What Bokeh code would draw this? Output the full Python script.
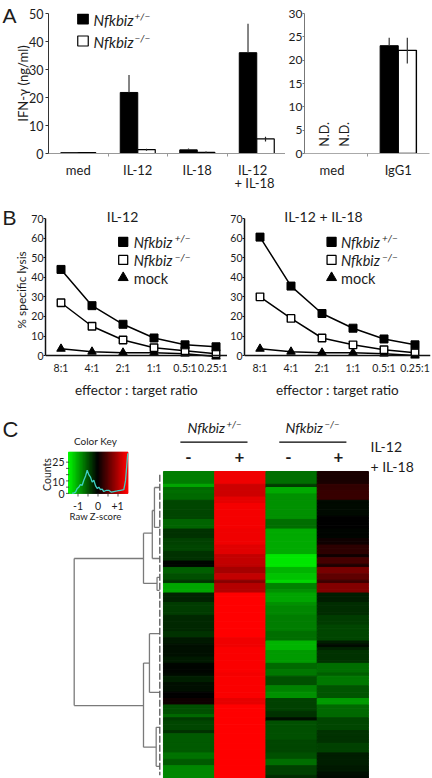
from bokeh.plotting import figure
from bokeh.layouts import column, row
from bokeh.models import Range1d, Label, FixedTicker, ColumnDataSource, LinearColorMapper, Span
from bokeh.transform import transform
from bokeh.embed import file_html
from bokeh.resources import INLINE
import numpy as np

FONT = "Lato"
INK = "#1c1c1c"

# ---- Panel A
stim_left = ["med", "IL-12", "IL-18", "IL-12"]
ifn_het = [0.3, 21.8, 1.3, 36.0]
ifn_ko = [0.3, 1.4, 0.4, 5.2]
ifn_het_top = [0.3, 28.0, 1.8, 46.3]
ifn_het_bot = [0.3, 21.8, 1.3, 36.0]
ifn_ko_top = [0.3, 1.7, 0.7, 6.0]
ifn_ko_bot = [0.3, 1.0, 0.2, 4.3]
stim_right = ["med", "IgG1"]
igg_het = [23.1]
igg_ko = [22.1]
igg_het_top = [24.8]
igg_ko_top = [24.8]
igg_ko_bot = [19.3]

# ---- Panel B
ratios = ["8:1", "4:1", "2:1", "1:1", "0.5:1", "0.25:1"]
b1_het = [44, 25.5, 16, 9, 5.5, 4.5]
b1_ko = [27, 15, 8, 4, 2.5, 1]
b1_mock = [3.5, 2, 1.5, 1.5, 1, -0.5]
b1_err = [0.8, 0.8, 0.8, 2.0, 0.6, 0.5]
b2_het = [60.5, 35.5, 21.5, 14, 8.5, 5.5]
b2_ko = [30, 19, 9, 5.5, 3, 1.5]
b2_mock = [3.5, 2, 1.5, 1.5, 1, 0]
b2_err = [1.0, 1.0, 1.8, 0.8, 0.6, 0.6]

# ---- Panel C: z-scores, one value per heat-map row
heat_c1 = [-.72,-.72,-.72,-.72,-.95,-.6,-.65,-.6,-.6,-.42,-.42,-.42,-.42,-.42,-.42,-.58,-.58,-.58,
           -.28,-.28,-.28,-.38,-.38,-.42,-.42,-.28,-.28,-.28,-.03,-.03,-.55,-.55,
           -.48,-.48,-.3,-.95,-.95,-.95,-.2,-.2,-.2,-.35,-.35,-.35,-.35,-.22,-.22,-.22,-.22,-.22,
           -.28,-.28,-.15,-.15,-.08,-.08,-.08,-.08,-.15,-.15,-.02,-.02,-.02,-.05,
           -.18,-.18,-.1,-.1,-.1,0,0,.1,.1,-.48,-.48,-.48,-.6,-.35,-.42,-.42,-.42,-.3,
           -.52,-.52,-.52,-.52,-.52,-.52,-.68,-.68,-.52,-.52,-.8,-.8,-.8,-.8]
heat_c2 = [1.4,1.4,1.4,1.4,1.2,1.2,1.2,1.2,1.35,1.35,1.42,1.42,1.42,1.42,1.42,1.42,1.42,1.42,
           1.4,1.4,1.4,1.4,1.4,1.3,1.3,1.3,1.15,1.15,1.15,1.1,.95,.95,
           1.15,1.15,.8,1.05,1.05,1.05,1.5,1.5,1.5,1.5,1.5,1.5,1.5,1.5,1.5,1.5,1.5,1.5,
           1.5,1.5,1.4,1.4,1.4,1.45,1.45,1.45,1.45,1.45,1.45,1.45,1.45,1.42,
           1.45,1.45,1.45,1.45,1.45,1.45,1.45,1.35,1.35,1.5,1.5,1.5,1.5,1.5,1.5,1.5,1.5,1.5,
           1.5,1.5,1.5,1.5,1.5,1.5,1.5,1.5,1.5,1.5,1.5,1.5,1.5,1.5]
heat_c3 = [-.65,-.65,-.65,-.65,-.35,-1.0,-1.0,-.85,-.85,-.85,-.85,-.85,-.85,-.85,-.85,-.65,-.65,-.65,
           -1.0,-1.0,-1.0,-1.0,-1.0,-1.0,-1.0,-1.0,-1.35,-1.35,-1.35,-1.35,-1.05,-1.05,
           -1.15,-1.15,-1.25,-.75,-.75,-.85,-.95,-.95,-.95,-.85,-.8,-.8,-.8,-.72,-.72,-.72,-.72,-.72,
           -.65,-.65,-.65,-1.05,-1.05,-1.05,-.9,-.9,-.9,-.9,-.6,-.6,-.7,-.7,
           -.48,-.48,-.48,-.75,-.75,-.85,-.85,-.38,-.38,-.38,-.38,-.28,-.28,-.1,-.48,-.48,-.48,-.48,
           -.48,-.48,-.42,-.42,-.42,-.42,-.48,-.48,-.65,-.65,-.38,-.38,-.38,-.25]
heat_c4 = [.15,.15,.15,.15,.3,.3,.33,.33,.33,-.05,-.05,-.05,-.05,-.05,0,0,0,0,
           -.02,-.02,-.02,.08,.08,.25,.25,.25,.1,.4,.4,.18,.7,.7,
           .55,.55,.35,.75,.75,.75,-.18,-.18,-.18,-.25,-.25,-.25,-.25,-.35,-.35,-.35,-.42,-.42,
           -.42,-.42,-.42,-.18,-.05,-.2,-.3,-.3,-.3,-.3,-.65,-.65,-.65,-.55,
           -.7,-.7,-.7,-.5,-.5,-.5,-.5,-.9,-.9,-.6,-.6,-.6,-.6,-.42,-.42,-.42,-.42,-.3,
           -.3,-.3,-.3,-.38,-.38,-.38,-.18,-.18,-.18,-.18,-.15,-.15,-.1,-.05]

hist_z = [-1.29,-1.2,-1.125,-1.04,-.96,-.88,-.79,-.71,-.62,-.54,-.46,-.375,-.29,-.21,-.12,-.04,.04,.125,.21,.29,.42,.54,.67,.79,.96,1.125,1.29,1.375,1.49]
hist_n = [0,0.5,1,4,5,7,6.5,10.5,14,18.5,15,13,9,10.5,6,4,5,3,3.5,1.5,2.5,2.5,1,1.5,2,2.5,3,10,32]

dend_h0 = [1,1,1,.197,.197,.197,.095,.095,.07,.07,.07,.095,.04,.04,.04,.197,.197,.197,.128,.128,.128,.05,.05,.05]
dend_r0 = [27.2,27.2,73.2,19.3,19.3,35,12.2,12.2,5,5,17.5,27.2,33.1,33.1,37.2,59.9,59.9,86.2,50.7,50.7,69.1,80,80,92.2]
dend_h1 = [1,.197,.197,.197,.095,.04,.095,.07,.07,.01,.01,.01,.04,.01,.01,.197,.128,.05,.128,.01,.01,.05,.01,.01]
dend_r1 = [73.2,27.2,73.2,35,19.3,35,27.2,12.2,17.5,5,17.5,27.2,37.2,33.1,37.2,86.2,59.9,86.2,69.1,50.7,69.1,92.2,80,92.2]
leaf_h = [.008, .008]
leaf_r = [1, 95]

ORIGIN = {}


def make(width, height, origin, xr, yr, frame, **kw):
    """origin = page pixel of the figure's top-left; frame = page pixels (left, right, bottom, top) of its plot area."""
    p = figure(width=width, height=height, x_range=xr, y_range=yr, output_backend="svg",
               toolbar_location=None, outline_line_color=None, background_fill_color="white",
               border_fill_color="white", **kw)
    p.grid.visible = False
    p.extra_x_ranges = {"px": Range1d(frame[0], frame[1])}
    p.extra_y_ranges = {"py": Range1d(frame[2], frame[3])}
    ORIGIN[p.id] = (origin[0], origin[1])
    return p


def lab(p, x, y, text, size=13, style="normal", align="left", base="middle", angle=0, font=FONT):
    ox, oy = ORIGIN[p.id]
    p.add_layout(Label(x=x - ox, y=y - oy, x_units="canvas", y_units="canvas", text=text,
                       text_font=font, text_font_size=f"{size}px", text_font_style=style,
                       text_align=align, text_baseline=base, angle=angle, angle_units="deg",
                       text_color=INK))


def style_axes(p, tick_size, axis_color="#333333"):
    for ax in (p.xaxis[0], p.yaxis[0]):
        ax.major_label_text_font = FONT
        ax.major_label_text_font_size = f"{tick_size}px"
        ax.major_label_text_color = INK
        ax.axis_line_color = axis_color
        ax.major_tick_line_color = axis_color
        ax.minor_tick_line_color = None
        ax.major_tick_in = 0


def nfk(p, x, y, sup, size=15, gap=41, sup_size=10):
    lab(p, x, y, "Nfkbiz", size, "italic")
    lab(p, x + gap, y - 4, sup, sup_size, "italic")


# transparent sheet over the whole page for texts that lie outside a plot area
ov = make(432, 778, (0, 0), Range1d(0, 432), Range1d(778, 0), (0, 432, 778, 0),
          min_border=0, x_axis_location=None, y_axis_location=None)
ov.background_fill_alpha = 0
ov.border_fill_alpha = 0
ov.styles = {"position": "absolute", "left": "0px", "top": "0px"}
lab(ov, 2, 15, "A", 21, font="Liberation Sans")
lab(ov, 2, 217, "B", 21, font="Liberation Sans")
lab(ov, 2, 429, "C", 22, font="Liberation Sans")
lab(ov, 122, 215.5, "IL-12", 14, align="center")
lab(ov, 323, 215.5, "IL-12 + IL-18", 14, align="center")
lab(ov, 254, 182, "+ IL-18", 13, align="center")

# ---------- A left
a1 = make(285, 200, (0, 0), Range1d(0, 3.983), Range1d(0, 50), (48, 285, 153, 13),
          min_border_left=48, min_border_right=0, min_border_top=13, min_border_bottom=47)
xa = np.arange(4) + 0.5
w = 0.294
a1.vbar(x=xa - w / 2, top=ifn_het, width=w, bottom=0, fill_color="black", line_color="black")
a1.vbar(x=xa + w / 2, top=ifn_ko, width=w, bottom=0, fill_color="white", line_color="black", line_width=1.2)
a1.segment(x0=xa - w / 2, y0=ifn_het_bot, x1=xa - w / 2, y1=ifn_het_top, line_color="#333333", line_width=1.2)
a1.segment(x0=xa + w / 2, y0=ifn_ko_bot, x1=xa + w / 2, y1=ifn_ko_top, line_color="#222222", line_width=1.2)
style_axes(a1, 12.5)
tick_a = [0.5, 1.5, 2.5, 3.43]
a1.xaxis[0].ticker = FixedTicker(ticks=tick_a, minor_ticks=[1, 2, 3])
a1.xaxis[0].major_label_overrides = {k: v for k, v in zip(tick_a, stim_left)}
a1.xaxis[0].major_tick_out = 0
a1.xaxis[0].major_label_standoff = 5
a1.xaxis[0].major_label_text_font_size = "13px"
a1.xaxis[0].minor_tick_line_color = "#999999"
a1.xaxis[0].minor_tick_out = 3
a1.xaxis[0].minor_tick_in = 0
a1.xaxis[0].axis_line_color = "#999999"
a1.yaxis[0].ticker = FixedTicker(ticks=[0, 10, 20, 30, 40, 50])
a1.yaxis[0].major_tick_out = 3
a1.yaxis[0].major_label_standoff = 2
a1.yaxis[0].axis_label = "IFN-γ (ng/ml)"
a1.yaxis[0].axis_label_text_font = FONT
a1.yaxis[0].axis_label_text_font_style = "normal"
a1.yaxis[0].axis_label_text_font_size = "13px"
a1.yaxis[0].axis_label_text_color = INK
a1.yaxis[0].axis_label_standoff = -5
a1.rect(x=[82.5, 82.5], y=[18.5, 40.5], width=10.5, height=10, x_range_name="px", y_range_name="py",
        fill_color=["black", "white"], line_color="black", line_width=1.2)
nfk(a1, 93, 19, "+/−")
nfk(a1, 93, 41, "−/−")

# ---------- A right
a2 = make(147, 200, (285, 0), Range1d(0, 2), Range1d(0, 30), (301, 429, 153, 7),
          min_border_left=16, min_border_right=3, min_border_top=7, min_border_bottom=47)
a2.vbar(x=[1.5 - 0.145], top=igg_het, width=0.29, fill_color="black", line_color="black")
a2.vbar(x=[1.5 + 0.145], top=igg_ko, width=0.29, fill_color="white", line_color="black", line_width=1.4)
a2.segment(x0=[1.355], y0=igg_het, x1=[1.355], y1=igg_het_top, line_color="#333333", line_width=1.2)
a2.segment(x0=[1.645], y0=igg_ko_bot, x1=[1.645], y1=igg_ko_top, line_color="#333333", line_width=1.2)
style_axes(a2, 12, "#777777")
a2.xaxis[0].ticker = FixedTicker(ticks=[0.44, 1.5], minor_ticks=[1])
a2.xaxis[0].major_label_overrides = {0.44: stim_right[0], 1.5: stim_right[1]}
a2.xaxis[0].major_tick_out = 0
a2.xaxis[0].major_label_standoff = 5
a2.xaxis[0].major_label_text_font_size = "13px"
a2.xaxis[0].minor_tick_line_color = "#999999"
a2.xaxis[0].minor_tick_out = 3
a2.xaxis[0].minor_tick_in = 0
a2.xaxis[0].axis_line_color = "#aaaaaa"
a2.yaxis[0].ticker = FixedTicker(ticks=[0, 5, 10, 15, 20, 25, 30])
a2.yaxis[0].major_tick_out = 2
a2.yaxis[0].major_label_standoff = 0
lab(a2, 324, 134, "N.D.", 12.5, align="center", angle=90)
lab(a2, 344, 134, "N.D.", 12.5, align="center", angle=90)


# ---------- B
def panel_b(width, origin, left, frame, xend, het, ko, mock, err, key_x, draw_ylabel):
    p = make(width, 200, origin, Range1d(0, xend), Range1d(-3, 70), frame,
             min_border_left=left, min_border_right=width - left - int(frame[1] - frame[0]),
             min_border_top=18, min_border_bottom=37)
    xs = np.arange(6) + 0.5
    hi = [a + b for a, b in zip(het, err)]
    lo = [a - b for a, b in zip(het, err)]
    p.add_layout(Span(location=0, dimension="width", line_color="#111111", line_width=1.5))
    p.segment(x0=xs, y0=lo, x1=xs, y1=hi, line_color="black", line_width=1.2)
    p.line(xs, het, line_color="black", line_width=1.5)
    p.line(xs, ko, line_color="black", line_width=1.5)
    p.line(xs, mock, line_color="black", line_width=1.5)
    p.scatter(xs, mock, marker="triangle", size=8.5, fill_color="black", line_color="black")
    p.scatter(xs, ko, marker="square", size=7.5, fill_color="white", line_color="black", line_width=1.4)
    p.scatter(xs, het, marker="square", size=8, fill_color="black", line_color="black")
    style_axes(p, 10.5, "#111111")
    ax = p.xaxis[0]
    ax.ticker = FixedTicker(ticks=list(xs))
    ax.major_label_overrides = {float(k): v for k, v in zip(xs, ratios)}
    ax.major_label_text_font_size = "10.5px"
    ax.axis_line_color = None
    ax.major_tick_line_color = None
    ax.major_tick_out = 0
    ax.major_label_standoff = 0
    ax.axis_label = "effector : target ratio"
    ax.axis_label_text_font = FONT
    ax.axis_label_text_font_style = "normal"
    ax.axis_label_text_font_size = "13.5px"
    ax.axis_label_text_color = INK
    ax.axis_label_standoff = 5
    ay = p.yaxis[0]
    ay.bounds = (0, 70)
    ay.ticker = FixedTicker(ticks=[0, 10, 20, 30, 40, 50, 60, 70])
    ay.major_tick_out = 2
    ay.major_label_standoff = 0
    ay.axis_line_width = 1.5
    if draw_ylabel:
        ay.axis_label = "% specific lysis"
        ay.axis_label_text_font = FONT
        ay.axis_label_text_font_style = "normal"
        ay.axis_label_text_font_size = "12px"
        ay.axis_label_text_color = INK
        ay.axis_label_standoff = -1
    sx = key_x
    p.scatter([sx, sx], [241.7, 260], x_range_name="px", y_range_name="py",
              marker="square", size=9, fill_color=["black", "white"], line_color="black", line_width=1.3)
    p.scatter([sx], [278], x_range_name="px", y_range_name="py",
              marker="triangle", size=10, fill_color="black", line_color="black")
    nfk(p, sx + 10.5, 241.5, "+/−", 14.5, 41, 10)
    nfk(p, sx + 10.5, 260, "−/−", 14.5, 41, 10)
    lab(p, sx + 10.5, 278, "mock", 14.5)
    return p


b1 = panel_b(227, (0, 200), 45, (45, 227, 363, 218), 5.87, b1_het, b1_ko, b1_mock, b1_err, 122.7, True)
b2 = panel_b(205, (227, 200), 15, (242, 430, 363, 218), 6, b2_het, b2_ko, b2_mock, b2_err, 330, False)

# ---------- C
cmap = LinearColorMapper(palette=[f"#00{v:02x}00" for v in range(255, -1, -5)] + [f"#{v:02x}0000" for v in range(5, 256, 5)],
                         low=-1.5, high=1.5)
c = make(432, 378, (0, 400), Range1d(-3.18, 5.25), Range1d(96, -22.2), (0, 432, 778, 400),
         min_border=0, x_axis_location=None, y_axis_location=None)
c.extra_x_ranges["dend"] = Range1d(1.854, -3.152)
c.extra_x_ranges["kz"] = Range1d(-4.875, 16.725)
c.extra_y_ranges["kn"] = Range1d(-228, 74.3)

heat = [heat_c1, heat_c2, heat_c3, heat_c4]
src = ColumnDataSource(dict(
    x=[j + 0.5 for j in range(4) for _ in heat[j]],
    y=[i + 0.5 for j in range(4) for i in range(len(heat[j]))],
    z=[v for col in heat for v in col]))
c.rect("x", "y", width=1, height=1, source=src, fill_color=transform("z", cmap),
       line_color=transform("z", cmap), line_width=1)

c.segment(x0=dend_h0, y0=dend_r0, x1=dend_h1, y1=dend_r1, x_range_name="dend", line_color="#7a7a7a", line_width=1.3)
c.line(leaf_h, leaf_r, x_range_name="dend", line_color="#555555", line_width=1.3, line_dash="7 2")

c.segment(x0=[0.33, 2.26], y0=[-9.2, -9.2], x1=[1.64, 3.57], y1=[-9.2, -9.2], line_color="black", line_width=1.2)
lab(c, 187, 427, "Nfkbiz", 14, "italic")
lab(c, 226, 424, "+/−", 9.5, "italic")
lab(c, 285, 427, "Nfkbiz", 14, "italic")
lab(c, 324, 424, "−/−", 9.5, "italic")
for xx, s in zip((188, 239, 288, 338), "-+-+"):
    lab(c, xx, 456, s, 17, "bold", align="center")
lab(c, 370, 446, "IL-12", 14)
lab(c, 370, 466, "+ IL-18", 14)

# colour key
key_z = np.linspace(-1.45, 1.47, 60)
key_w = (1.47 + 1.45) / 59
c.rect("x", y=16.5, width=key_w, height=33, x_range_name="kz", y_range_name="kn",
       fill_color=transform("z", cmap), line_color=transform("z", cmap), line_width=1,
       source=ColumnDataSource(dict(z=key_z, x=key_z)))
c.line(hist_z, hist_n, x_range_name="kz", y_range_name="kn", line_color="#3fd0c4", line_width=1.3)
c.segment(x0=[-1.45] * 6, y0=[0, 5, 10, 15, 20, 25], x1=[-1.6] * 6, y1=[0, 5, 10, 15, 20, 25],
          x_range_name="kz", y_range_name="kn", line_color="#333333", line_width=0.8)
c.segment(x0=[-1, -.5, 0, .5, 1], y0=[0] * 5, x1=[-1, -.5, 0, .5, 1], y1=[-2.5] * 5,
          x_range_name="kz", y_range_name="kn", line_color="#333333", line_width=0.8)
lab(c, 95, 440, "Color Key", 10, align="center")
lab(c, 95, 516, "Raw Z-score", 9.5, align="center")
lab(c, 46.5, 474, "Counts", 10.5, align="center", angle=90)
for yy, s in zip((493, 481, 461), ("0", "10", "25")):
    lab(c, 64, yy, s, 10.5, align="right")
for xx, s in zip((77.5, 97.5, 117), ("-1", "0", "+1")):
    lab(c, xx, 505, s, 10.5, align="center")

page = column(row(a1, a2, spacing=0), row(b1, b2, spacing=0), c, ov, spacing=0, margin=(0, 0, 0, 0),
              styles={"position": "absolute", "left": "0px", "top": "0px"})
open("out.html", "w").write(file_html(page, INLINE))
